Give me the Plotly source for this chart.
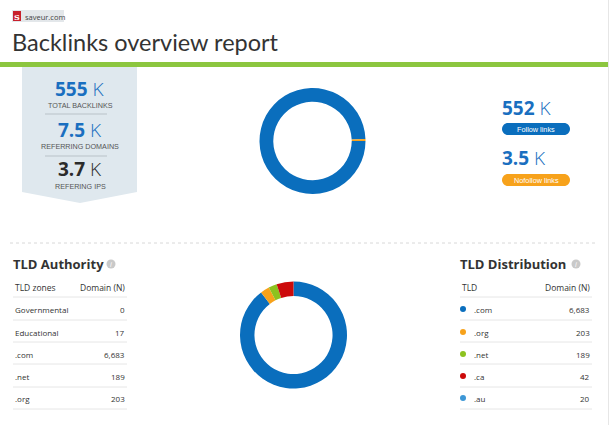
import plotly.graph_objects as go

W, H = 610, 425

# ---- data ----
site = "saveur.com"
title = "Backlinks overview report"
total_backlinks_k = 555
referring_domains_k = 7.5
referring_ips_k = 3.7
link_types = ["Follow links", "Nofollow links"]
link_values_k = [552, 3.5]

authority_zones = ["Governmental", "Educational", ".com", ".net", ".org"]
authority_counts = [0, 17, 6683, 189, 203]

dist_tlds = [".com", ".org", ".net", ".ca", ".au"]
dist_counts = [6683, 203, 189, 42, 20]

# donut: top TLDs plus all remaining zones (estimated from the ring)
donut_labels = [".com", ".org", ".net", "others"]
donut_values = [6683, 203, 189, 380]

# ---- styles ----
BLUE = "#0a6ebd"
ORANGE = "#f7a21b"
dist_colors = ["#0a6ebd", "#f7a21b", "#8dc21f", "#cc0a0a", "#3d97d6"]
donut_colors = ["#0a6ebd", "#f7a21b", "#8dc21f", "#cc0a0a"]
DARK = "#333333"
FONT = "Open Sans"


def dom_x(cx, r):
    return [(cx - r) / W, (cx + r) / W]


def dom_y(cy, r):
    return [1 - (cy + r) / H, 1 - (cy - r) / H]


fig = go.Figure()

# top donut (follow / nofollow)
fig.add_trace(go.Pie(
    values=link_values_k, labels=link_types, hole=0.74, sort=False,
    direction="counterclockwise", rotation=90,
    marker=dict(colors=[BLUE, ORANGE], line=dict(width=0)),
    textinfo="none", hoverinfo="label+value", showlegend=False,
    domain=dict(x=dom_x(312.5, 53), y=dom_y(141, 53)),
))

# bottom donut (TLD distribution)
fig.add_trace(go.Pie(
    values=donut_values, labels=donut_labels, hole=0.73, sort=False,
    direction="clockwise", rotation=0,
    marker=dict(colors=donut_colors, line=dict(width=0)),
    textinfo="none", hoverinfo="label+value", showlegend=False,
    domain=dict(x=dom_x(293.5, 53.5), y=dom_y(335, 53.5)),
))

shapes = []
ann = []


def text(x, y, s, size, color=DARK, xanchor="left", family=FONT, yanchor="middle"):
    ann.append(dict(x=x, y=y, xref="x", yref="y", text=s, showarrow=False,
                    xanchor=xanchor, yanchor=yanchor,
                    font=dict(size=size, color=color, family=family)))


def line(x0, y0, x1, y1, color, width=1, dash=None):
    d = dict(type="line", x0=x0, y0=y0, x1=x1, y1=y1, xref="x", yref="y",
             line=dict(color=color, width=width))
    if dash:
        d["line"]["dash"] = dash
    shapes.append(d)


def rect(x0, y0, x1, y1, color):
    shapes.append(dict(type="rect", x0=x0, y0=y0, x1=x1, y1=y1, xref="x", yref="y",
                       fillcolor=color, line=dict(width=0), layer="below"))


def pill(x0, y0, x1, y1, color):
    r = (y1 - y0) / 2
    p = (f"M {x0 + r},{y0} L {x1 - r},{y0} C {x1 - r * 0.45},{y0} {x1},{y0 + r * 0.45} {x1},{y0 + r} "
         f"C {x1},{y1 - r * 0.45} {x1 - r * 0.45},{y1} {x1 - r},{y1} L {x0 + r},{y1} "
         f"C {x0 + r * 0.45},{y1} {x0},{y1 - r * 0.45} {x0},{y1 - r} "
         f"C {x0},{y0 + r * 0.45} {x0 + r * 0.45},{y0} {x0 + r},{y0} Z")
    shapes.append(dict(type="path", path=p, xref="x", yref="y", fillcolor=color,
                       line=dict(width=0)))


def info_icon(cx, cy):
    shapes.append(dict(type="circle", x0=cx - 4.5, y0=cy - 4.5, x1=cx + 4.5, y1=cy + 4.5,
                       xref="x", yref="y", fillcolor="#c9c9c9", line=dict(width=0)))
    text(cx, cy + 0.5, "<i>i</i>", 7, "white", xanchor="center")


def kfmt(v):
    return f"{v:g}"


# header
rect(12, 10, 64, 22, "#e3e7ea")
rect(13, 11, 21, 21, "#c8202c")
text(17, 16.5, "<b>S</b>", 8, "white", xanchor="center", family="DejaVu Serif")
text(23, 16.5, site, 7.5, "#444")
text(10, 42, title, 23.5, DARK, family="Lato")
rect(0, 62, W - 2, 67, "#8cc63f")
line(608.5, 0, 608.5, H, "#e6e6e6", 1)

# left KPI panel
shapes.append(dict(type="path", xref="x", yref="y", fillcolor="#dfe8ee", line=dict(width=0),
                   path="M 22,67 L 137,67 L 137,192 L 80,203 L 22,192 Z", layer="below"))
kpis = [(total_backlinks_k, "TOTAL BACKLINKS", "#1a6fc0", 89, 105),
        (referring_domains_k, "REFERRING DOMAINS", "#1a6fc0", 130, 146),
        (referring_ips_k, "REFERING IPS", "#2b2b2b", 169, 186)]
for val, lab, col, yv, yl in kpis:
    text(80, yv, f"<b>{kfmt(val)}</b> <span style='font-weight:300'>K</span>", 19, col,
         xanchor="center")
    text(80, yl, lab, 7.2, "#555", xanchor="center", family="Liberation Sans")
line(45, 114, 107, 114, "#b9c2c8", 1)
line(45, 156, 107, 156, "#b9c2c8", 1)

# right KPIs
pill_cols = [BLUE, ORANGE]
for i, (lab, val) in enumerate(zip(link_types, link_values_k)):
    yv = 108 + i * 50
    yp = 123 + i * 51
    text(500, yv, f"<b>{kfmt(val)}</b> <span style='font-weight:300'>K</span>", 19, "#1a6fc0")
    pill(502, yp, 570, yp + 12, pill_cols[i])
    text(536, yp + 6, lab, 7.3, "white", xanchor="center", family="Liberation Sans")

# separator
line(10, 243, 598, 243, "#d8d8d8", 1, "dot")

# tables
row_y = [309, 332, 354, 376, 398]
line_y = [297, 320, 342, 364, 387, 409]

# TLD Authority
text(11, 264, "<b>TLD Authority</b>", 13, DARK)
info_icon(111, 264)
text(13, 287, "TLD zones", 8.5, DARK)
text(127, 287, "Domain (N)", 8.5, DARK, xanchor="right")
for y in line_y:
    line(13, y, 127, y, "#e6e6e6", 1)
for z, c, y in zip(authority_zones, authority_counts, row_y):
    text(13, y, z, 8, DARK)
    text(127, y, f"{c:,}", 8, DARK, xanchor="right")

# TLD Distribution
text(458, 264, "<b>TLD Distribution</b>", 13, DARK)
info_icon(576, 264)
text(460, 287, "TLD", 8.5, DARK)
text(592, 287, "Domain (N)", 8.5, DARK, xanchor="right")
for y in line_y:
    line(460, y, 592, y, "#e6e6e6", 1)
for t, c, col, y in zip(dist_tlds, dist_counts, dist_colors, row_y):
    shapes.append(dict(type="circle", x0=460, y0=y - 3, x1=466, y1=y + 3, xref="x", yref="y",
                       fillcolor=col, line=dict(width=0)))
    text(472, y, t, 8, DARK)
    text(592, y, f"{c:,}", 8, DARK, xanchor="right")

fig.update_layout(
    width=W, height=H, margin=dict(l=0, r=0, t=0, b=0),
    paper_bgcolor="white", plot_bgcolor="white",
    xaxis=dict(range=[0, W], visible=False, fixedrange=True),
    yaxis=dict(range=[H, 0], visible=False, fixedrange=True),
    shapes=shapes, annotations=ann, showlegend=False,
)

fig.write_html("out.html", config={"displayModeBar": False},
               post_script="document.body.style.margin='0';")
